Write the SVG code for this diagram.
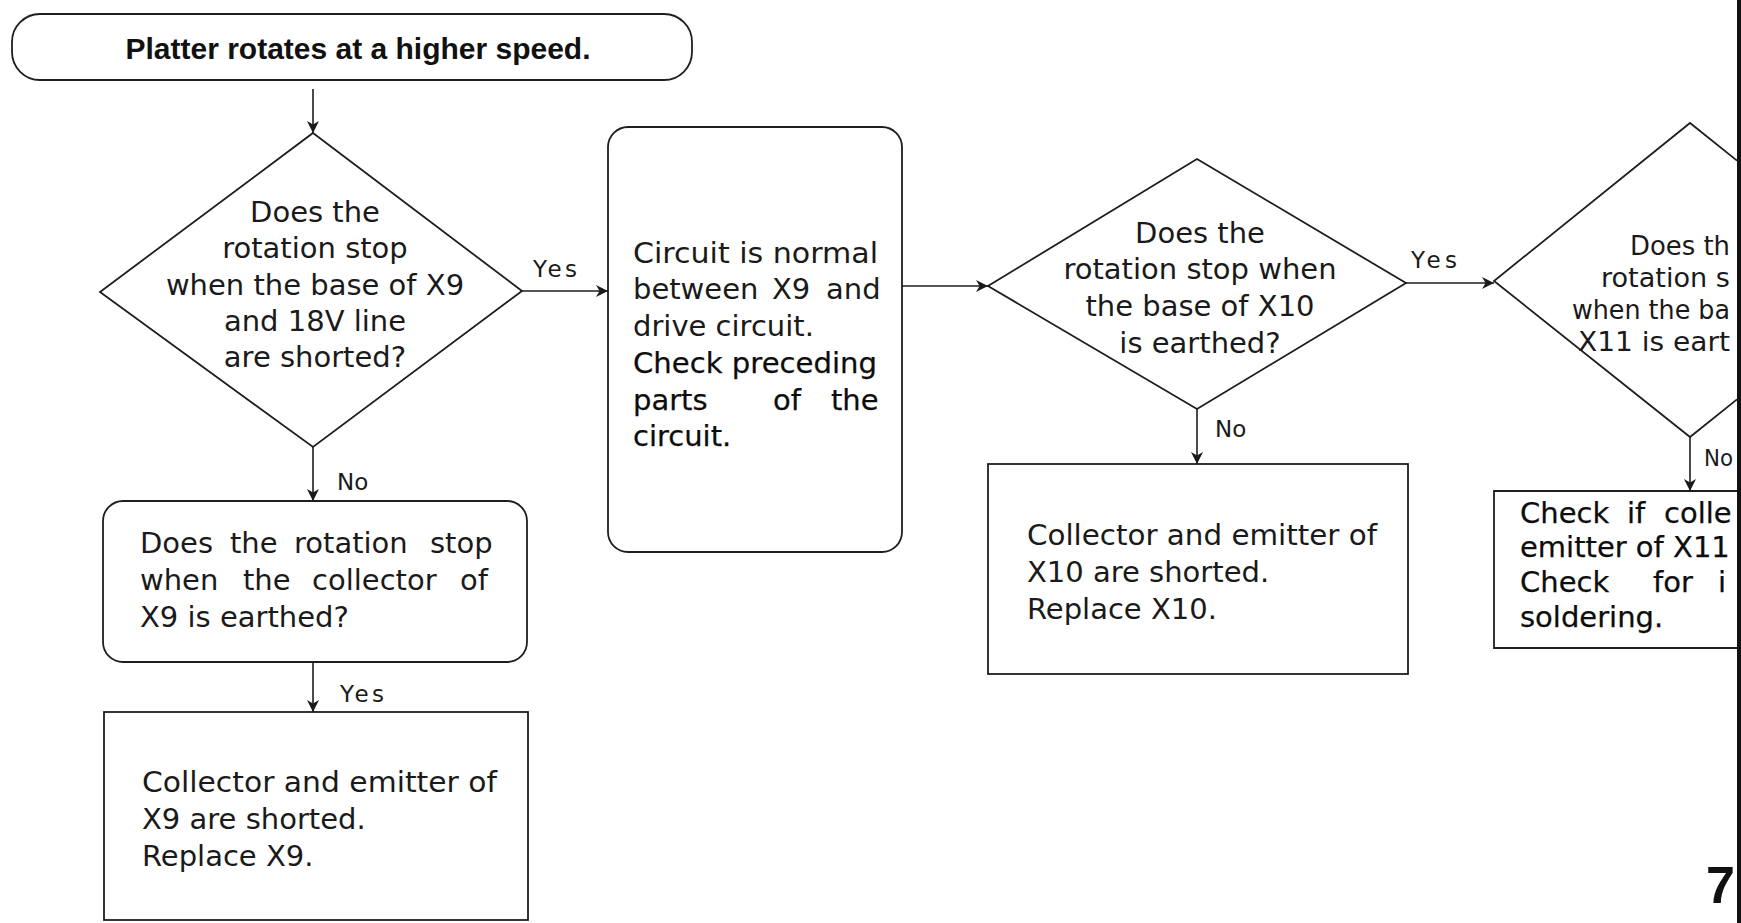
<svg xmlns="http://www.w3.org/2000/svg" width="1741" height="923" viewBox="0 0 1741 923">
<defs>
<marker id="arr" viewBox="0 0 10 10" refX="10" refY="5" markerWidth="12" markerHeight="12" markerUnits="userSpaceOnUse" orient="auto">
<path d="M0,0 L10,5 L0,10 L3,5 z" fill="#1a1a1a"/>
</marker>
<style>
.shape{fill:none;stroke:#1e1e1e;stroke-width:1.8}
.con{fill:none;stroke:#1e1e1e;stroke-width:1.6;marker-end:url(#arr)}
.t{font-family:"DejaVu Sans",sans-serif;font-size:29px;fill:#1a1a1a}
.s{font-size:26px}
.dk{fill:#0d0d0d;stroke:#0d0d0d;stroke-width:0.25}
.c{text-anchor:middle}
.lbl{font-family:"DejaVu Sans",sans-serif;font-size:23px;fill:#1a1a1a}
.title{font-family:"Liberation Sans",Arial,sans-serif;font-weight:bold;font-size:30px;fill:#111;text-anchor:middle}
</style>
</defs>
<rect width="1741" height="923" fill="#ffffff"/>

<g id="start">
<rect class="shape" x="12" y="14" width="680" height="66" rx="28" ry="28"/>
<text class="title" x="358" y="59" textLength="465" lengthAdjust="spacingAndGlyphs">Platter rotates at a higher speed.</text>
</g>

<g id="q1">
<polygon class="shape" points="313,133 522,291 313,447 100,292"/>
<text class="t c" x="315" y="222">Does the</text>
<text class="t c" x="315" y="258">rotation stop</text>
<text class="t c" x="315" y="295">when the base of X9</text>
<text class="t c" x="315" y="331">and 18V line</text>
<text class="t c" x="315" y="367">are shorted?</text>
</g>

<g id="normal">
<rect class="shape" x="608" y="127" width="294" height="425" rx="20" ry="20"/>
<text class="t" x="633" y="263" textLength="245" lengthAdjust="spacingAndGlyphs">Circuit is normal</text>
<text class="t" y="299"><tspan x="633">between</tspan> <tspan x="772">X9</tspan> <tspan x="826">and</tspan></text>
<text class="t" x="633" y="336">drive circuit.</text>
<text class="t dk" x="633" y="373" textLength="244" lengthAdjust="spacingAndGlyphs">Check preceding</text>
<text class="t dk" y="410"><tspan x="633">parts</tspan> <tspan x="773">of</tspan> <tspan x="831">the</tspan></text>
<text class="t dk" x="633" y="446">circuit.</text>
</g>

<g id="q2">
<rect class="shape" x="103" y="501" width="424" height="161" rx="20" ry="20"/>
<text class="t" y="553"><tspan x="140">Does</tspan> <tspan x="230">the</tspan> <tspan x="294">rotation</tspan> <tspan x="430">stop</tspan></text>
<text class="t" y="590"><tspan x="140">when</tspan> <tspan x="243">the</tspan> <tspan x="312">collector</tspan> <tspan x="460">of</tspan></text>
<text class="t" x="140" y="627">X9 is earthed?</text>
</g>

<g id="x9">
<rect class="shape" x="104" y="712" width="424" height="208"/>
<text class="t" x="142" y="792" textLength="355" lengthAdjust="spacingAndGlyphs">Collector and emitter of</text>
<text class="t" x="142" y="829">X9 are shorted.</text>
<text class="t" x="142" y="866">Replace X9.</text>
</g>

<g id="q3">
<polygon class="shape" points="1197,159 1406,283 1197,409 988,286"/>
<text class="t c" x="1200" y="243">Does the</text>
<text class="t c" x="1200" y="279">rotation stop when</text>
<text class="t c" x="1200" y="316">the base of X10</text>
<text class="t c" x="1200" y="353">is earthed?</text>
</g>

<g id="x10">
<rect class="shape" x="988" y="464" width="420" height="210"/>
<text class="t" x="1027" y="545" textLength="350" lengthAdjust="spacingAndGlyphs">Collector and emitter of</text>
<text class="t" x="1027" y="582">X10 are shorted.</text>
<text class="t" x="1027" y="619">Replace X10.</text>
</g>

<g id="q4">
<path class="shape" d="M1737,160.6 L1690,123 L1494,281 L1690,437 L1737,399.4"/>
<text class="t s" x="1630" y="255" textLength="100" lengthAdjust="spacingAndGlyphs">Does th</text>
<text class="t s" x="1601" y="287" textLength="129" lengthAdjust="spacingAndGlyphs">rotation s</text>
<text class="t s" x="1572" y="319" textLength="158" lengthAdjust="spacingAndGlyphs">when the ba</text>
<text class="t s" x="1578" y="351" textLength="152" lengthAdjust="spacingAndGlyphs">X11 is eart</text>
</g>

<g id="x11">
<path class="shape" d="M1737,491 H1494 V648 H1737"/>
<text class="t dk" y="523"><tspan x="1520">Check</tspan> <tspan x="1627">if</tspan> <tspan x="1664">colle</tspan></text>
<text class="t dk" x="1520" y="557">emitter of X11</text>
<text class="t dk" y="592"><tspan x="1520">Check</tspan> <tspan x="1653">for</tspan> <tspan x="1718">i</tspan></text>
<text class="t dk" x="1520" y="627">soldering.</text>
</g>

<g id="connectors">
<line class="con" x1="313" y1="89" x2="313" y2="133"/>
<line class="con" x1="522" y1="291" x2="608" y2="291"/>
<text class="lbl" x="533" y="277" textLength="44" lengthAdjust="spacing">Yes</text>
<line class="con" x1="313" y1="447" x2="313" y2="501"/>
<text class="lbl" x="337" y="490">No</text>
<line class="con" x1="313" y1="662" x2="313" y2="712"/>
<text class="lbl" x="340" y="702" textLength="44" lengthAdjust="spacing">Yes</text>
<line class="con" x1="902" y1="286" x2="988" y2="286"/>
<line class="con" x1="1406" y1="283" x2="1494" y2="283"/>
<text class="lbl" x="1411" y="268" textLength="46" lengthAdjust="spacing">Yes</text>
<line class="con" x1="1197" y1="409" x2="1197" y2="464"/>
<text class="lbl" x="1215" y="437">No</text>
<line class="con" x1="1690" y1="437" x2="1690" y2="491"/>
<text class="lbl" x="1704" y="466" textLength="29" lengthAdjust="spacingAndGlyphs">No</text>
</g>

<g id="page">
<text x="1706" y="903" font-family="Liberation Sans, Arial, sans-serif" font-weight="bold" font-size="52" fill="#111">7</text>
<rect x="1737" y="0" width="4" height="923" fill="#111"/>
</g>
</svg>
